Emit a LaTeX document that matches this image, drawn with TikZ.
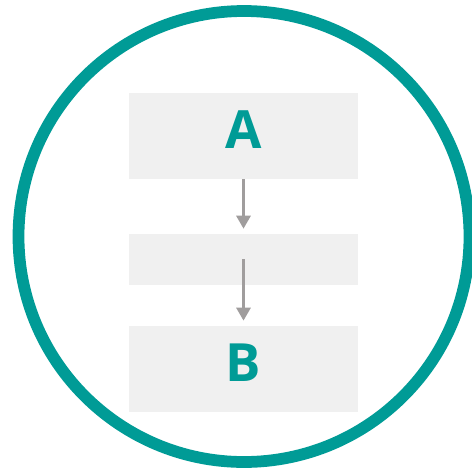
\documentclass[tikz,border=0pt]{standalone}
\usepackage{fontspec}
\setmainfont{Open Sans}
\usepackage{tikz}
\usetikzlibrary{arrows.meta}
\definecolor{teal}{HTML}{009B96}
\definecolor{boxgray}{HTML}{F0F0F0}
\definecolor{arrowgray}{HTML}{A09D9D}

\begin{document}
\begin{tikzpicture}[x=0.02cm,y=-0.02cm,
  box/.style={fill=boxgray,minimum width=4.57cm,inner sep=0pt,text depth=0.24cm,font=\fontsize{30}{36}\selectfont\bfseries,text=teal},
  flow/.style={-{Triangle[width=0.28cm,length=0.26cm]},line width=0.06cm,arrowgray,shorten >=0.1cm}]
\useasboundingbox (0,0) rectangle (472,470);
\clip (0,0) rectangle (472,470);
\draw[teal,line width=0.235cm] (244,236.5) circle (225.5);
\node (A)[box,minimum height=1.708cm] at (243.5,136) {A};
\node (mid)[box,minimum height=1.014cm] at (243.5,259.4) {};
\node (B)[box,minimum height=1.72cm] at (243.5,369) {B};
\draw[flow] (A) to (mid);
\draw[flow] (mid.center) to (B);
\end{tikzpicture}
\end{document}
